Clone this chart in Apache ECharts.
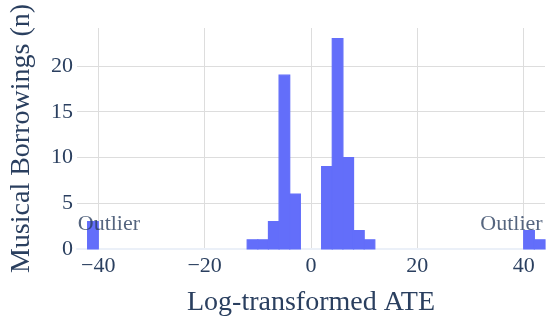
<!DOCTYPE html>
<html>
<head>
<meta charset="utf-8">
<script src="https://cdn.jsdelivr.net/npm/echarts@6/dist/echarts.min.js"></script>
<style>
  html, body { margin: 0; padding: 0; background: #fff; }
  #chart { width: 548px; height: 322px; }
</style>
</head>
<body>
<div id="chart"></div>
<script>
// histogram bins (start of each bin, all 2 wide) and counts
var binStarts = [-42, -12, -10, -8, -6, -4, 2, 4, 6, 8, 10, 40, 42]
var binCounts = [3, 1, 1, 3, 19, 6, 9, 23, 10, 2, 1, 2, 1]
var binWidth = 2
var xTicks = [-40, -20, 0, 20, 40]
var yTicks = [0, 5, 10, 15, 20]
// outlier annotations [x, y]
var outlierLabels = [[-38, 2.7], [37.7, 2.7]]

var textColor = '#2a3f5f'
var fontFamily = '"Liberation Serif", "Times New Roman", serif'

var bins = binStarts.map(function(s, i) {
  return [s, s + binWidth, binCounts[i]]
})

var chart = echarts.init(document.getElementById('chart'))
chart.setOption({
  animation: false,
  grid: { left: 77, right: 3, top: 28, bottom: 71 },
  xAxis: {
    type: 'value',
    min: -44,
    max: 44,
    name: 'Log-transformed ATE',
    nameLocation: 'middle',
    nameGap: 40,
    nameTextStyle: { fontFamily: fontFamily, fontSize: 28, color: textColor },
    axisLine: { show: true, onZero: false, lineStyle: { color: '#ebf0f8', width: 2 } },
    axisTick: { show: false, customValues: xTicks },
    axisLabel: {
      customValues: xTicks,
      fontFamily: fontFamily,
      fontSize: 22,
      color: textColor,
      margin: 6,
      formatter: function(v) { return v < 0 ? '\u2212' + Math.abs(v) : String(v) }
    },
    splitLine: { show: true, lineStyle: { color: '#dddddd', width: 1 } }
  },
  yAxis: {
    type: 'value',
    min: 0,
    max: 24.15,
    name: 'Musical Borrowings (n)',
    nameLocation: 'middle',
    nameGap: 41,
    nameTextStyle: { fontFamily: fontFamily, fontSize: 28, color: textColor },
    axisLine: { show: false },
    axisTick: { show: false, customValues: yTicks },
    axisLabel: {
      customValues: yTicks,
      fontFamily: fontFamily,
      fontSize: 22,
      color: textColor,
      margin: 4
    },
    splitLine: { show: true, lineStyle: { color: '#dddddd', width: 1 } }
  },
  series: [
    {
      type: 'custom',
      data: bins,
      encode: { x: [0, 1], y: 2 },
      z: 3,
      renderItem: function(params, api) {
        var p0 = api.coord([api.value(0), api.value(2)])
        var p1 = api.coord([api.value(1), 0])
        return {
          type: 'rect',
          shape: { x: p0[0], y: p0[1], width: p1[0] - p0[0], height: p1[1] - p0[1] },
          style: { fill: '#636efa', stroke: '#636efa', lineWidth: 1.2 }
        }
      }
    },
    {
      type: 'scatter',
      data: outlierLabels,
      symbolSize: 0,
      silent: true,
      z: 5,
      label: {
        show: true,
        position: 'inside',
        formatter: 'Outlier',
        fontFamily: fontFamily,
        fontSize: 22,
        color: textColor
      }
    }
  ]
})
</script>
</body>
</html>
